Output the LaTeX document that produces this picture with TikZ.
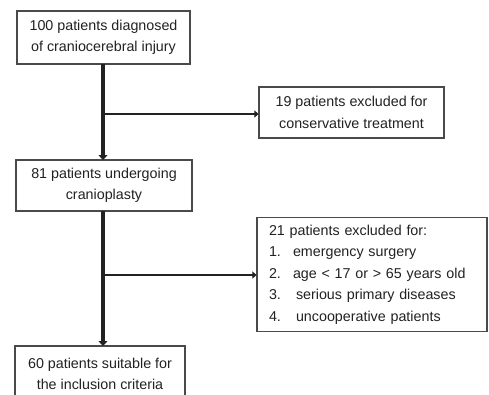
\documentclass[tikz,border=0pt]{standalone}
\usepackage{fontspec}
\setmainfont{Liberation Sans}
\usetikzlibrary{arrows.meta}
\definecolor{ink}{HTML}{222222}
\definecolor{edge}{HTML}{4A4A4A}
\tikzset{
  box/.style={draw=edge, line width=1.1pt, fill=white, text=ink, inner sep=0pt,
    font=\fontsize{14.3}{21.5}\selectfont, align=center, anchor=center},
  flow/.style={draw=ink, line width=3.4pt, -{Triangle[length=5pt,width=9pt]}},
  branch/.style={draw=ink, line width=2.8pt, -{Triangle[length=4pt,width=7pt]}}
}
\begin{document}
\begin{tikzpicture}[x=1pt,y=-1pt]
\useasboundingbox (0,0) rectangle (489,394);
\clip (0,0) rectangle (489,394);
\fill[white] (0,0) rectangle (489,394);
\node[box, minimum width=173pt, minimum height=53pt] (b1) at (103.5,37.5)
  {100 patients diagnosed\\of craniocerebral injury};
\node[box, minimum width=185pt, minimum height=51pt] (b2) at (351.5,112.5)
  {19 patients excluded for\\conservative treatment};
\node[box, minimum width=176pt, minimum height=51pt] (b3) at (104,185.5)
  {81 patients undergoing\\cranioplasty};
\node[box, minimum width=230pt, minimum height=114pt, align=left, text width=206pt, inner xsep=12pt] (b5) at (372,274.5)
  {21 patients excluded for:\\
   \makebox[24pt][l]{1.}emergency surgery\\
   \makebox[24pt][l]{2.}age < 17 or > 65 years old\\
   \makebox[27pt][l]{3.}serious primary diseases\\
   \makebox[27pt][l]{4.}uncooperative patients};
\node[box, minimum width=170pt, minimum height=56pt] (b4) at (100,374)
  {60 patients suitable for\\the inclusion criteria};
\coordinate (j1) at (103,114);
\coordinate (j2) at (103,275);
\draw[flow] (103,64) -- (103,160);
\draw[branch] (j1) -- (j1 -| b2.west);
\draw[flow] (103,211) -- (103,346);
\draw[branch] (j2) -- (j2 -| b5.west);
\end{tikzpicture}
\end{document}
